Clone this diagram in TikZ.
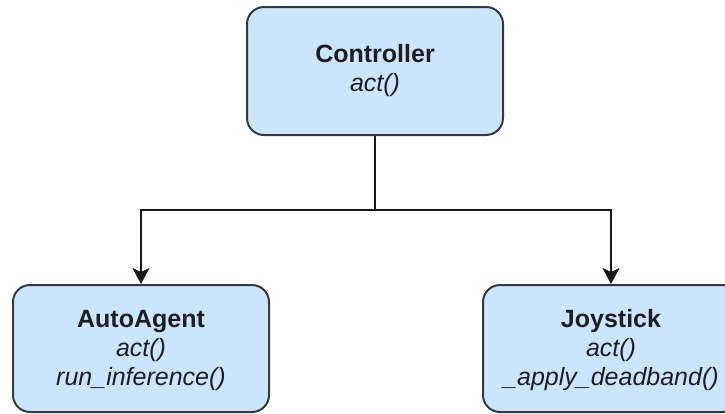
\documentclass[tikz,border=0pt]{standalone}
\usepackage{fontspec}
\setmainfont{Liberation Sans}
\usetikzlibrary{arrows.meta}
\definecolor{boxfill}{HTML}{CCE5FF}
\definecolor{boxline}{HTML}{36393D}
\tikzset{
  classbox/.style={draw=boxline, fill=boxfill, line width=2pt, rounded corners=17pt,
    minimum width=256pt, minimum height=127pt, inner sep=0pt, align=center,
    font=\fontsize{25}{29}\selectfont, text=black!88},
  conn/.style={draw=black!90, line width=2pt,
    -{Stealth[length=16pt, width=17pt, inset=4pt]}},
  link/.style={draw=black!90, line width=2pt}
}
\begin{document}
\begin{tikzpicture}[x=1pt, y=-1pt]
  \useasboundingbox (0,0) rectangle (725,413);
  \clip (0,0) rectangle (725,413);
  \node[classbox, minimum height=128pt] (ctrl) at (375,71)
    {\textbf{Controller}\\\textit{act()}};
  \node[classbox] (agent) at (141,348.5)
    {\rule{0pt}{22pt}\textbf{AutoAgent}\\\textit{act()}\\\textit{run\_inference()}};
  \node[classbox] (joy) at (611,348.5)
    {\rule{0pt}{22pt}\textbf{Joystick}\\\textit{act()}\\\textit{\_apply\_deadband()}};
  \coordinate (split) at (375,210);
  \draw[link] (ctrl.south) -- (split);
  \draw[conn] (split) -| (agent.north);
  \draw[conn] (split) -| (joy.north);
\end{tikzpicture}
\end{document}
